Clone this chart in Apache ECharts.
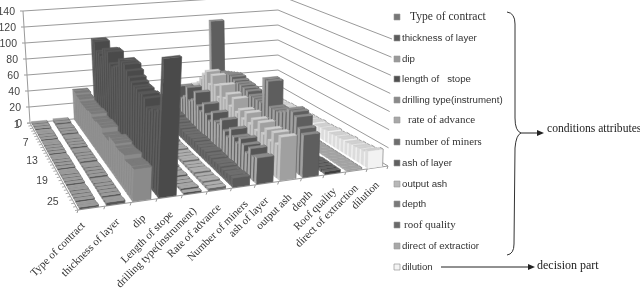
<!DOCTYPE html>
<html><head><meta charset="utf-8">
<style>html,body{margin:0;padding:0;background:#fff}#c{width:640px;height:293px;filter:blur(0.4px)}</style>
<script src="https://cdn.jsdelivr.net/npm/echarts@6/dist/echarts.min.js"></script>
</head><body><div id="c"></div>
<script>
const categories=["Type of contract","thickness of layer","dip","Length of stope","drilling type(instrument)","Rate of advance","Number of miners","ash of layer","output ash","depth","Roof quality","direct of extraction","dilution"];
const valueTicks=[0,20,40,60,80,100,120,140];
const rowTicks=[1,7,13,19,25];
const typeOfContract=[2,2,2,1,2,2,2,1,2,2,2,2,1,2,2,2,2,1,2,2,2,2,1,2,2,2,2,1,2];
const thicknessOfLayer=[3,3,2,3,3,3,2,3,3,3,3,2,3,3,3,3,2,3,3,3,3,2,3,3,3,3,3,2,3];
const dip=[38,38,36,36,34,34,34,34,36,36,33,33,35,35,35,30,30,30,36,36,36,34,34,35,36,32,33,34,34];
const lengthOfStope=[100,100,90,90,88,100,102,102,90,88,92,95,105,105,105,100,95,92,90,90,88,90,88,80,80,85,85,90,146];
const drillingType=[2,2,3,2,2,3,2,2,2,3,2,2,3,2,2,2,3,2,2,2,3,2,2,3,2,2,2,3,2];
const rateOfAdvance=[3,3,4,3,3,4,3,3,4,3,3,3,4,3,3,4,3,3,3,4,3,3,3,4,3,3,4,3,3];
const numberOfMiners=[22,24,20,18,16,14,14,12,12,11,11,10,10,10,11,11,10,10,10,11,10,10,9,10,10,9,9,10,10];
const ashOfLayer=[27,27,38,25,30,44,30,34,46,32,28,40,30,25,38,30,30,38,28,24,36,30,26,34,30,24,32,26,28];
const outputAsh=[33,33,40,48,56,62,48,62,52,40,58,44,52,40,52,38,44,36,46,36,44,34,46,36,44,34,46,36,47];
const depth=[113,48,50,52,54,56,58,58,56,55,55,54,53,50,50,50,50,80,80,52,52,52,55,58,63,63,60,50,46];
const roofQuality=[3,3,3,2,3,3,3,3,2,3,3,3,3,2,3,3,3,3,2,3,3,3,3,2,3,3,3,3,3];
const directOfExtraction=[2,2,2,2,2,2,2,2,2,2,2,2,2,2,2,2,2,2,2,2,2,2,2,2,2,2,2,2,2];
const dilution=[8,8,9,9,9,10,10,10,11,11,11,12,12,12,13,12,13,13,14,13,14,14,15,14,15,15,16,16,19];
const columns=[typeOfContract,thicknessOfLayer,dip,lengthOfStope,drillingType,rateOfAdvance,numberOfMiners,ashOfLayer,outputAsh,depth,roofQuality,directOfExtraction,dilution];
const legendNames=["Type of contract","thickness of layer","dip","length of   stope","drilling type(instrument)","rate of advance","number of miners","ash of layer","output ash","depth","roof quality","direct of extractior","dilution"];
const legendSerif=[1,0,0,0,0,1,1,0,0,0,1,0,0];
const legendSize=[11.6,9.7,9.7,9.7,9.7,11,10.8,9.7,9.7,9.7,11,9.7,9.7];
const legendX=[410,402,402,402,402,408,405,402,402,402,404,402,402];
const legendY=[17,38,59,79,100,120,142,163,184,204,225,246,267];
const legendFill=["#777","#5c5c5c","#9a9a9a","#505050","#8a8a8a","#a8a8a8","#6e6e6e","#606060","#b8b8b8","#7a7a7a","#6a6a6a","#a8a8a8","#f4f4f4"];
const labelNudge=[-8,0,0,2,0,0,3,0,0,-2,0,0,0];
const palette=[
 ["#565656","#8c8c8c","#9a9a9a"],["#565656","#8c8c8c","#9a9a9a"],["#8a8a8a","#929292","#7a7a7a"],
 ["#4a4a4a","#5e5e5e","#585858"],["#505050","#909090","#a6a6a6"],["#666","#9a9a9a","#aeaeae"],
 ["#5a5a5a","#686868","#6e6e6e"],["#555","#a8a8a8","#8a8a8a"],["#a0a0a0","#c4c4c4","#cfcfcf"],
 ["#5e5e5e","#a0a0a0","#8a8a8a"],["#3e3e3e","#777","#666"],["#a0a0a0","#a8a8a8","#a4a4a4"],
 ["#f2f2f2","#dcdcdc","#cfcfcf"]];
const rows=typeOfContract.length, maxVal=140;

// corners of the floor and of the 140 plane: back-left, back-right, front-right, front-left
const floorQ=[[30,123],[278,100],[388,166],[78,210]];
const topQ=[[23,11],[278,-5],[392,39],[84,74]];
function bil(q,u,v){
 const a=[q[0][0]+(q[1][0]-q[0][0])*u,q[0][1]+(q[1][1]-q[0][1])*u];
 const b=[q[3][0]+(q[2][0]-q[3][0])*u,q[3][1]+(q[2][1]-q[3][1])*u];
 return [a[0]+(b[0]-a[0])*v,a[1]+(b[1]-a[1])*v];
}
function P(u,v,w){
 const uu=u*(1+.135*(1-u)), vv=v*(1-.15*(1-v));
 const a=bil(floorQ,uu,vv),b=bil(topQ,uu,vv),t=w/maxVal;
 return [a[0]+(b[0]-a[0])*t,a[1]+(b[1]-a[1])*t];
}

const gridW=640,gridH=293,barW=0.7,barD=0.72,barShift=-0.08;
function renderBar(params,api){
 const col=api.value(0),r=api.value(1),val=api.value(2);
 const c=api.coord([col,val]);
 const band=api.size([1,0])[0]/gridW;
 const uc=c[0]/gridW+band*barShift, w=(gridH-c[1])/gridH*maxVal, hb=band*barW/2;
 const v0=(r+.5-barD/2)/rows,v1=(r+.5+barD/2)/rows,u0=uc-hb,u1=uc+hb;
 const pal=palette[col];
 const poly=(pts,fill)=>({type:'polygon',shape:{points:pts},style:{fill:fill,stroke:fill,lineWidth:0.4}});
 const edge=(a,b,s)=>({type:'line',shape:{x1:a[0],y1:a[1],x2:b[0],y2:b[1]},style:{stroke:s,lineWidth:0.5}});
 return {type:'group',children:[
  poly([P(u0,v0,0),P(u0,v1,0),P(u0,v1,w),P(u0,v0,w)],pal[1]),
  poly([P(u0,v1,0),P(u1,v1,0),P(u1,v1,w),P(u0,v1,w)],pal[0]),
  poly([P(u0,v0,w),P(u1,v0,w),P(u1,v1,w),P(u0,v1,w)],pal[2]),
  edge(P(u1,v0,w),P(u1,v1,w),'#666'),
  edge(P(u1,v1,0),P(u1,v1,w),'#555')
 ]};
}
const series=columns.map((vals,c)=>({
 type:'custom',name:categories[c],coordinateSystem:'cartesian2d',encode:{x:0,y:2},silent:true,
 animation:false,clip:false,renderItem:renderBar,
 data:vals.map((v,r)=>[c,r,v])
})).reverse();

const g=[];
const lineG=(a,b,s,lw)=>g.push({type:'line',silent:true,shape:{x1:a[0],y1:a[1],x2:b[0],y2:b[1]},style:{stroke:s||'#9a9a9a',lineWidth:lw||1},z:-1});
const txt=(x,y,t,o,el)=>g.push(Object.assign({type:'text',silent:true,x:x,y:y,z:5,style:Object.assign({text:t,fill:'#333',font:'10.5px "Liberation Sans"',verticalAlign:'middle'},o||{})},el||{}));
valueTicks.forEach(t=>{
 lineG(P(0,0,t),P(1,0,t)); lineG(P(1,0,t),P(1,1,t));
 const p=P(0,0,t); lineG([p[0]-3,p[1]],p);
 txt(p[0]-8,p[1]+1,String(t),{align:'right',fill:'#444'});
});
lineG(P(0,0,0),P(0,0,140));
lineG(P(0,0,0),P(0,1,0)); lineG(P(0,1,0),P(1,1,0));
for(let r=0;r<=rows;r++){const p=P(0,r/rows,0);lineG([p[0]-3,p[1]+0.5],p,'#aaa');}
rowTicks.forEach(t=>{const v=(t-.5)/rows,p=P(0,v,0);txt(p[0]-11,p[1]+v*7+1,String(t),{align:'right',fill:'#444'});});
categories.forEach((n,c)=>{
 const a=P(c/13,1,0);lineG(a,[a[0]-1,a[1]+3],'#999');
 const u=(c+.5)/13,p=P(u,1,0);
 txt(p[0]+labelNudge[c],p[1]+16,n,{align:'right',font:'11px "Liberation Serif"',fill:'#333'},{rotation:Math.PI/4});
});
lineG(P(1,1,0),[P(1,1,0)[0]-1,P(1,1,0)[1]+3],'#999');
legendNames.forEach((n,i)=>{
 g.push({type:'rect',silent:true,shape:{x:394,y:legendY[i]-3,width:6,height:6},style:{fill:legendFill[i],stroke:i===12?'#888':'#999',lineWidth:.6}});
 txt(legendX[i],legendY[i],n,{font:legendSize[i]+'px "Liberation '+(legendSerif[i]?'Serif':'Sans')+'"',fill:'#333'});
});
txt(547,129,"conditions attributes",{font:'11.6px "Liberation Serif"',fill:'#222'});
txt(537,266,"decision part",{font:'12px "Liberation Serif"',fill:'#222'});
const curve=(x1,y1,cx,cy,x2,y2)=>g.push({type:'bezierCurve',silent:true,shape:{x1:x1,y1:y1,cpx1:cx,cpy1:cy,x2:x2,y2:y2},style:{fill:'none',stroke:'#333',lineWidth:1}});
curve(507,12,515,13,515,24);
g.push({type:'line',silent:true,shape:{x1:515,y1:24,x2:515,y2:118},style:{stroke:'#333',lineWidth:1}});
curve(515,118,515,131,521,133);
curve(521,133,516,135,515,148);
g.push({type:'line',silent:true,shape:{x1:515,y1:148,x2:514,y2:244},style:{stroke:'#333',lineWidth:1}});
curve(514,244,514,254,507,255);
g.push({type:'line',silent:true,shape:{x1:521,y1:133,x2:540,y2:133},style:{stroke:'#222',lineWidth:1}});
g.push({type:'polygon',silent:true,shape:{points:[[544,133],[537,130],[537,136]]},style:{fill:'#222'}});
g.push({type:'line',silent:true,shape:{x1:441,y1:267,x2:530,y2:267},style:{stroke:'#222',lineWidth:1}});
g.push({type:'polygon',silent:true,shape:{points:[[535,267],[528,264],[528,270]]},style:{fill:'#222'}});

const chart=echarts.init(document.getElementById('c'),null,{renderer:'canvas'});
chart.setOption({
 animation:false,backgroundColor:'#fff',
 grid:{left:0,top:0,width:gridW,height:gridH,show:false},
 xAxis:{type:'category',data:categories,show:false},
 yAxis:{type:'value',min:0,max:maxVal,interval:20,show:false},
 tooltip:{show:false},
 graphic:{elements:g},
 series:series
});
</script></body></html>
